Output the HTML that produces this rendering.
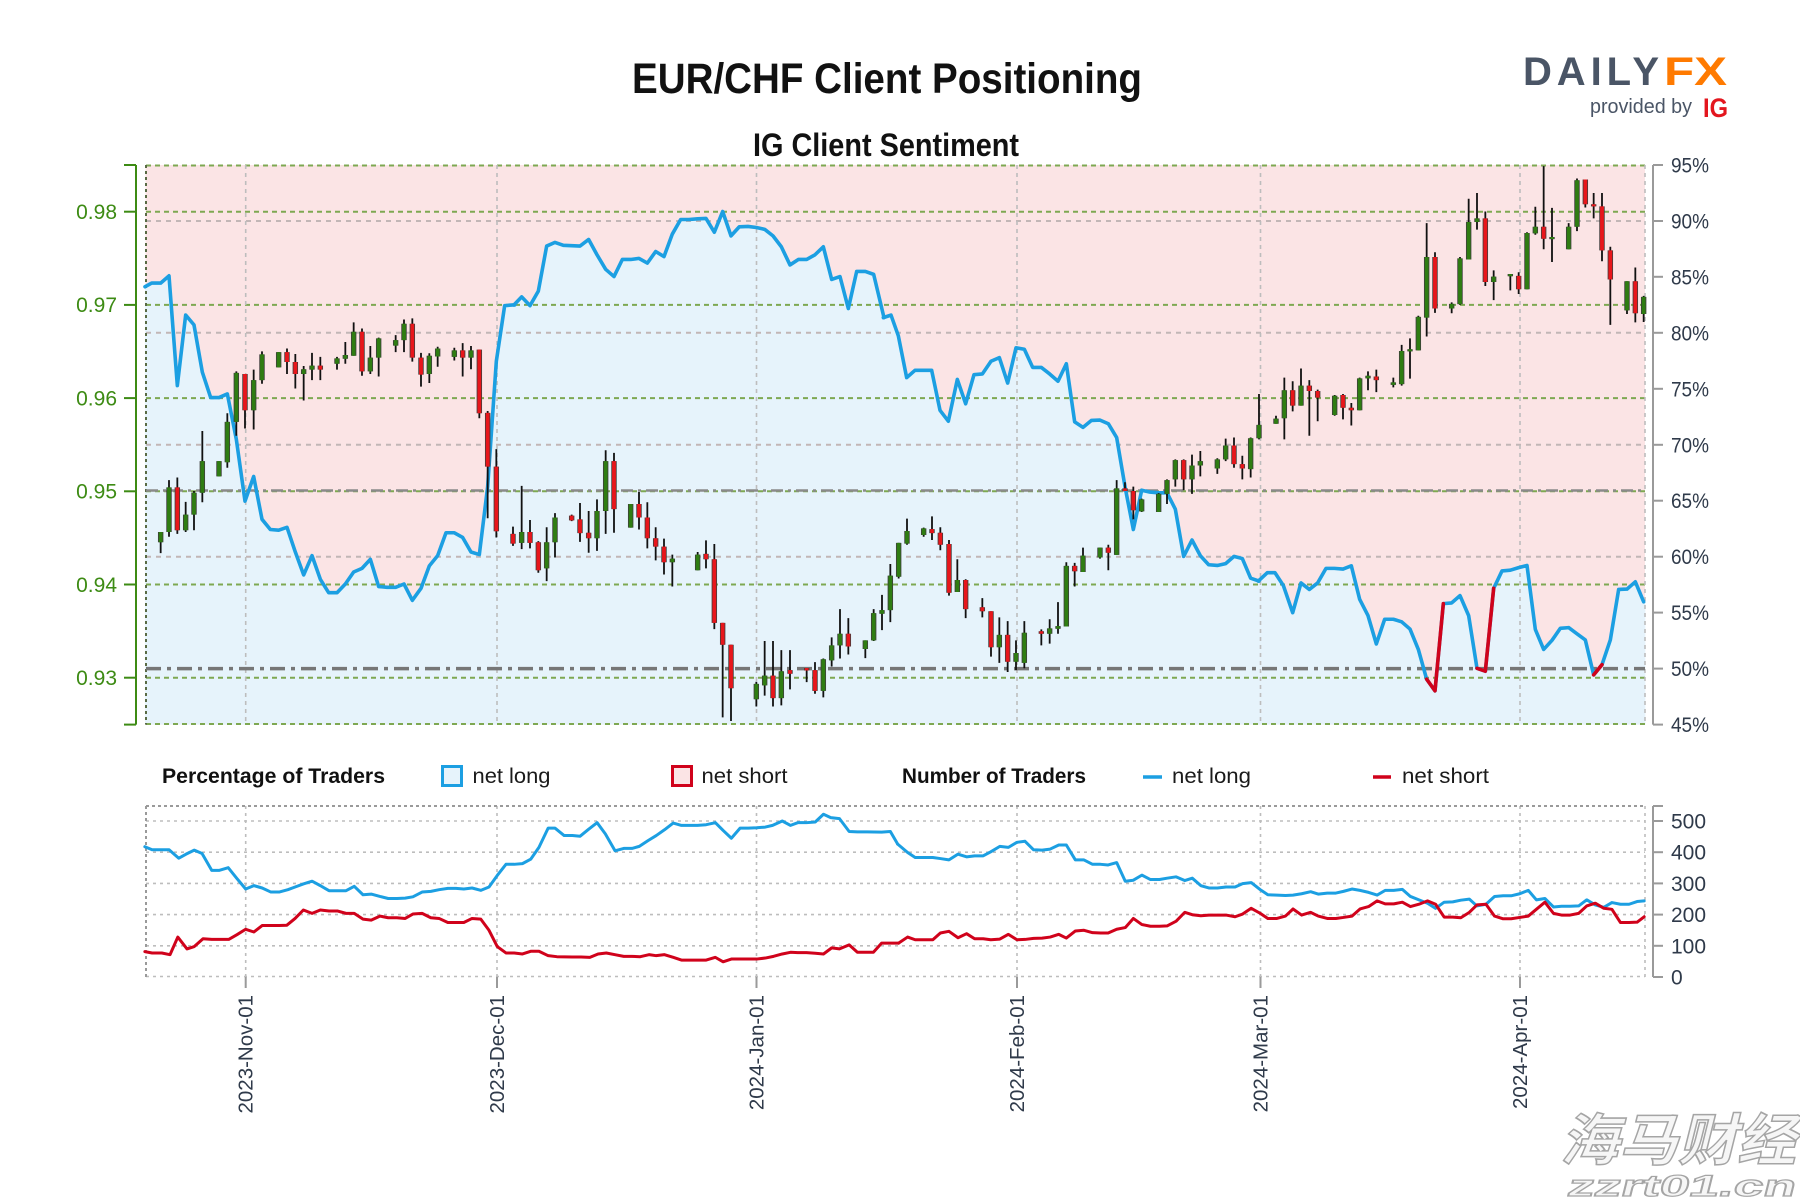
<!DOCTYPE html>
<html><head><meta charset="utf-8"><style>
html,body{margin:0;padding:0;background:#fff;}
svg{display:block;}
.ns{vector-effect:non-scaling-stroke;fill:none;}
</style></head><body>
<svg width="1800" height="1200" viewBox="0 0 1800 1200" xmlns="http://www.w3.org/2000/svg">
<rect width="1800" height="1200" fill="#fff"/>
<text x="632" y="93" font-family="Liberation Sans, sans-serif" font-weight="bold" font-size="43" fill="#111" textLength="510" lengthAdjust="spacingAndGlyphs">EUR/CHF Client Positioning</text>
<text x="753" y="156" font-family="Liberation Sans, sans-serif" font-weight="bold" font-size="32" fill="#111" textLength="266" lengthAdjust="spacingAndGlyphs">IG Client Sentiment</text>
<text x="1523" y="85" font-family="Liberation Sans, sans-serif" font-weight="bold" font-size="40" fill="#4a5566" textLength="136" lengthAdjust="spacing">DAILY</text>
<text x="1664" y="85" font-family="Liberation Sans, sans-serif" font-weight="bold" font-size="40" fill="#ff7a00" textLength="63" lengthAdjust="spacingAndGlyphs">FX</text>
<text x="1590" y="113" font-family="Liberation Sans, sans-serif" font-size="20" fill="#4a5566" textLength="102" lengthAdjust="spacingAndGlyphs">provided by</text>
<text x="1703" y="117" font-family="Liberation Sans, sans-serif" font-weight="bold" font-size="27" fill="#e3161e" textLength="25" lengthAdjust="spacingAndGlyphs">IG</text>
<rect x="145.5" y="165" width="1499.5" height="559.6" fill="#fbe4e5"/>
<g fill="#e6f3fb" stroke="none">
<g transform="translate(140,159.55) scale(0.33333,0.3634)"><polygon points="15,350 35,340 62,340 87,320 112,622 137,428 162,455 187,585 212,655 237,655 262,645 289,770 315,940 341,872 366,990 391,1018 416,1020 441,1012 466,1080 491,1143 516,1090 541,1155 566,1192 591,1192 616,1168 641,1135 666,1125 691,1100 716,1175 741,1177 767,1177 792,1168 817,1213 843,1180 868,1118 893,1090 918,1027 943,1027 968,1040 993,1080 1018,1087 1043,900 1069,555 1094,402 1119,400 1124,400 1124,1555 15,1555"/></g>
<g transform="translate(510,159.55) scale(0.33333,0.3634)"><polygon points="12,400 35,378 60,402 85,362 110,238 135,228 160,236 185,237 210,238 236,220 261,262 287,302 312,322 337,275 362,275 387,272 412,285 437,253 462,267 487,205 512,165 537,165 563,163 588,162 613,200 638,143 663,210 688,185 714,184 739,187 764,192 789,210 814,240 840,290 865,275 890,275 915,262 940,240 965,330 990,322 1015,410 1040,308 1066,308 1091,316 1122,435 1122,1555 12,1555"/></g>
<g transform="translate(880,159.55) scale(0.33333,0.3634)"><polygon points="10,435 33,428 55,485 80,600 105,580 155,580 180,690 205,720 232,605 257,672 282,592 307,590 333,555 358,545 383,615 408,518 433,522 458,572 484,572 509,590 534,610 559,562 584,722 609,737 634,718 660,717 685,727 710,765 735,900 760,1018 785,910 810,915 836,917 861,917 886,962 911,1092 936,1047 961,1090 986,1115 1012,1117 1037,1112 1062,1092 1087,1098 1112,1152 1137,1160 1137,1555 10,1555"/></g>
<g transform="translate(1250,159.55) scale(0.33333,0.3634)"><polygon points="25,1160 52,1137 75,1137 100,1172 128,1247 153,1165 178,1183 203,1165 228,1125 253,1125 279,1127 304,1118 329,1210 354,1255 379,1333 404,1265 430,1265 455,1272 480,1292 505,1348 530,1430 555,1462 580,1222 605,1220 630,1200 656,1255 681,1400 706,1408 731,1180 756,1132 781,1130 806,1123 831,1117 856,1293 881,1348 906,1323 931,1290 956,1288 981,1305 1006,1322 1031,1418 1056,1390 1081,1322 1106,1183 1131,1182 1156,1162 1181,1217 1186,1217 1186,1555 25,1555"/></g>
</g>
<g stroke="#c2b6b6" stroke-width="2" stroke-dasharray="5 5" fill="none">
<line x1="146" y1="221" x2="1645" y2="221"/><line x1="146" y1="332.8" x2="1645" y2="332.8"/><line x1="146" y1="444.8" x2="1645" y2="444.8"/><line x1="146" y1="556.7" x2="1645" y2="556.7"/>
</g>
<g stroke="#7ea852" stroke-width="2" stroke-dasharray="5 4" fill="none">
<line x1="146" y1="211.7" x2="1645" y2="211.7"/><line x1="146" y1="304.9" x2="1645" y2="304.9"/><line x1="146" y1="398.1" x2="1645" y2="398.1"/><line x1="146" y1="491.3" x2="1645" y2="491.3"/><line x1="146" y1="584.5" x2="1645" y2="584.5"/><line x1="146" y1="677.7" x2="1645" y2="677.7"/>
<line x1="146" y1="165.5" x2="1645" y2="165.5"/><line x1="146" y1="724" x2="1645" y2="724"/>
</g>
<g stroke="#bdbdbd" stroke-width="1.6" stroke-dasharray="4 4" fill="none">
<line x1="245.7" y1="165" x2="245.7" y2="724.6"/><line x1="497" y1="165" x2="497" y2="724.6"/><line x1="756.5" y1="165" x2="756.5" y2="724.6"/><line x1="1017" y1="165" x2="1017" y2="724.6"/><line x1="1260.5" y1="165" x2="1260.5" y2="724.6"/><line x1="1520" y1="165" x2="1520" y2="724.6"/>
<line x1="1645" y1="165" x2="1645" y2="724.6"/>
</g>
<line x1="146" y1="165" x2="146" y2="724.6" stroke="#5a6b45" stroke-width="2" stroke-dasharray="3 3"/>
<line x1="146" y1="490.5" x2="1645" y2="490.5" stroke="#8a8a8a" stroke-width="2.5" stroke-dasharray="12 5 3 5"/>
<line x1="146" y1="668.6" x2="1645" y2="668.6" stroke="#767676" stroke-width="3.5" stroke-dasharray="15 6 4 6"/>
<g stroke="#1c9fe2" stroke-width="3.6" fill="none" stroke-linejoin="round" stroke-linecap="round">
<g transform="translate(140,159.55) scale(0.33333,0.3634)"><polyline class="ns" points="15,350 35,340 62,340 87,320 112,622 137,428 162,455 187,585 212,655 237,655 262,645 289,770 315,940 341,872 366,990 391,1018 416,1020 441,1012 466,1080 491,1143 516,1090 541,1155 566,1192 591,1192 616,1168 641,1135 666,1125 691,1100 716,1175 741,1177 767,1177 792,1168 817,1213 843,1180 868,1118 893,1090 918,1027 943,1027 968,1040 993,1080 1018,1087 1043,900 1069,555 1094,402 1119,400 1124,400"/></g>
<g transform="translate(510,159.55) scale(0.33333,0.3634)"><polyline class="ns" points="12,400 35,378 60,402 85,362 110,238 135,228 160,236 185,237 210,238 236,220 261,262 287,302 312,322 337,275 362,275 387,272 412,285 437,253 462,267 487,205 512,165 537,165 563,163 588,162 613,200 638,143 663,210 688,185 714,184 739,187 764,192 789,210 814,240 840,290 865,275 890,275 915,262 940,240 965,330 990,322 1015,410 1040,308 1066,308 1091,316 1122,435"/></g>
<g transform="translate(880,159.55) scale(0.33333,0.3634)"><polyline class="ns" points="10,435 33,428 55,485 80,600 105,580 155,580 180,690 205,720 232,605 257,672 282,592 307,590 333,555 358,545 383,615 408,518 433,522 458,572 484,572 509,590 534,610 559,562 584,722 609,737 634,718 660,717 685,727 710,765 735,900 760,1018 785,910 810,915 836,917 861,917 886,962 911,1092 936,1047 961,1090 986,1115 1012,1117 1037,1112 1062,1092 1087,1098 1112,1152 1137,1160"/></g>
<g transform="translate(1250,159.55) scale(0.33333,0.3634)"><polyline class="ns" points="25,1160 52,1137 75,1137 100,1172 128,1247 153,1165 178,1183 203,1165 228,1125 253,1125 279,1127 304,1118 329,1210 354,1255 379,1333 404,1265 430,1265 455,1272 480,1292 505,1348 530,1430 555,1462 580,1222 605,1220 630,1200 656,1255 681,1400 706,1408 731,1180 756,1132 781,1130 806,1123 831,1117 856,1293 881,1348 906,1323 931,1290 956,1288 981,1305 1006,1322 1031,1418 1056,1390 1081,1322 1106,1183 1131,1182 1156,1162 1181,1217"/>
<polyline class="ns" stroke="#d0021b" points="530,1430 555,1462 580,1222"/><polyline class="ns" stroke="#d0021b" points="681,1400 706,1408 731,1180"/><polyline class="ns" stroke="#d0021b" points="1031,1418 1056,1390"/></g>
</g>
<g fill="none">
<g transform="translate(140,159.55) scale(0.33333,0.3634)">
<path class="ns" stroke="#111" stroke-width="1.8" d="M62 1025V1083M87 882V1038M112 875V1030M137 942V1025M162 912V1020M187 747V943M237 830V872M262 698V848M289 583V760M315 590V740M341 578V743M366 528V617M416 530V572M441 520V590M466 535V630M491 568V663M516 532V607M541 543V607M591 543V578M616 502V562M641 448V540M666 465V595M691 513V590M716 490V597M767 483V530M792 440V530M817 437V556M843 532V625M868 533V615M893 515V570M943 518V553M968 505V597M993 513V577M1018 523V712M1043 692V987M1069 797V1040M1119 1010V1063"/>
<path class="ns" stroke="#3d3d3d" stroke-width="5.4" d="M62 1025V1053M87 902V1025M137 977V1020M162 917V977M187 830V917M237 830V872M262 722V833M289 587V722M341 607V690M366 536V607M416 530V572M491 577V590M516 567V578M591 547V562M616 538V548M641 474V540M691 545V583M716 492V545M767 497V512M792 452V497M868 540V590M893 520V542M943 525V543M993 525V545M112 902V1020M315 590V690M441 530V557M466 557V590M541 567V578M666 474V583M817 452V545M843 545V592M968 525V545M1018 523V698M1043 697V845M1069 845V1023M1119 1030V1057"/>
<path class="ns" stroke="#2f7d12" stroke-width="3.8" d="M62 1025V1053M87 902V1025M137 977V1020M162 917V977M187 830V917M237 830V872M262 722V833M289 587V722M341 607V690M366 536V607M416 530V572M491 577V590M516 567V578M591 547V562M616 538V548M641 474V540M691 545V583M716 492V545M767 497V512M792 452V497M868 540V590M893 520V542M943 525V543M993 525V545"/>
<path class="ns" stroke="#e8161b" stroke-width="3.8" d="M112 902V1020M315 590V690M441 530V557M466 557V590M541 567V578M666 474V583M817 452V545M843 545V592M968 525V545M1018 523V698M1043 697V845M1069 845V1023M1119 1030V1057"/>
</g>
<g transform="translate(510,159.55) scale(0.33333,0.3634)">
<path class="ns" stroke="#111" stroke-width="1.8" d="M35 898V1072M60 992V1070M85 1050V1137M110 1012V1160M135 973V1095M185 977V995M210 945V1052M236 967V1082M261 935V1077M287 800V1030M312 807V1027M362 948V1013M387 915V1018M412 943V1070M437 1012V1103M462 1043V1142M487 1087V1175M563 1080V1130M588 1048V1125M613 1058V1292M638 1275V1535M663 1335V1545M739 1437V1505M764 1325V1475M789 1325V1505M814 1350V1502M840 1350V1458M890 1400V1438M915 1383V1470M940 1373V1480M965 1315V1395M990 1237V1373M1015 1262V1362M1066 1323V1372M1091 1237V1325M1116 1198V1295"/>
<path class="ns" stroke="#3d3d3d" stroke-width="5.4" d="M35 1025V1055M110 1053V1125M135 985V1053M261 967V1042M287 830V967M362 948V1013M487 1098V1108M563 1087V1130M739 1443V1485M764 1420V1447M814 1408V1482M940 1375V1462M965 1337V1378M990 1305V1337M1066 1323V1347M1091 1248V1323M1116 1240V1250M60 1025V1055M85 1053V1130M185 980V993M210 990V1028M236 1027V1042M312 830V962M387 948V985M412 985V1042M437 1042V1065M462 1065V1108M588 1085V1100M613 1100V1275M638 1275V1335M663 1335V1455M789 1420V1482M840 1405V1415M890 1399V1406M915 1405V1462M1015 1305V1340"/>
<path class="ns" stroke="#2f7d12" stroke-width="3.8" d="M35 1025V1055M110 1053V1125M135 985V1053M261 967V1042M287 830V967M362 948V1013M487 1098V1108M563 1087V1130M739 1443V1485M764 1420V1447M814 1408V1482M940 1375V1462M965 1337V1378M990 1305V1337M1066 1323V1347M1091 1248V1323M1116 1240V1250"/>
<path class="ns" stroke="#e8161b" stroke-width="3.8" d="M60 1025V1055M85 1053V1130M185 980V993M210 990V1028M236 1027V1042M312 830V962M387 948V985M412 985V1042M437 1042V1065M462 1065V1108M588 1085V1100M613 1100V1275M638 1275V1335M663 1335V1455M789 1420V1482M840 1405V1415M890 1399V1406M915 1405V1462M1015 1305V1340"/>
</g>
<g transform="translate(880,159.55) scale(0.33333,0.3634)">
<path class="ns" stroke="#111" stroke-width="1.8" d="M31 1113V1273M56 1055V1153M81 988V1060M131 1013V1038M156 982V1047M181 1012V1075M207 1047V1200M232 1100V1190M257 1155V1262M307 1207V1260M333 1243V1368M358 1260V1385M383 1270V1410M408 1323V1405M433 1270V1400M484 1293V1337M509 1265V1332M534 1218V1305M559 1108V1285M584 1110V1175M609 1068V1135M660 1068V1098M685 1060V1130M710 882V1088M735 888V912M760 900V990M785 933V970M836 918V970M861 880V948M886 825V900M911 825V910M936 812V920M961 802V872M1012 822V865M1037 768V830M1062 765V848M1087 815V880M1112 765V875M1137 645V770"/>
<path class="ns" stroke="#3d3d3d" stroke-width="5.4" d="M31 1145V1240M56 1055V1148M81 1022V1057M131 1015V1033M232 1157V1190M358 1308V1342M408 1358V1382M433 1302V1385M509 1290V1305M534 1284V1291M559 1118V1285M609 1090V1135M660 1068V1095M710 905V1088M785 935V968M836 920V970M861 882V920M886 827V880M936 842V880M961 830V842M1012 825V850M1037 787V825M1112 767V852M1137 730V767M156 1017V1028M181 1027V1060M207 1058V1192M257 1157V1237M307 1232V1243M333 1243V1342M383 1308V1382M484 1298V1305M584 1118V1133M685 1068V1082M735 905V912M760 912V965M911 827V880M1062 787V838M1087 838V850"/>
<path class="ns" stroke="#2f7d12" stroke-width="3.8" d="M31 1145V1240M56 1055V1148M81 1022V1057M131 1015V1033M232 1157V1190M358 1308V1342M408 1358V1382M433 1302V1385M509 1290V1305M534 1284V1291M559 1118V1285M609 1090V1135M660 1068V1095M710 905V1088M785 935V968M836 920V970M861 882V920M886 827V880M936 842V880M961 830V842M1012 825V850M1037 787V825M1112 767V852M1137 730V767"/>
<path class="ns" stroke="#e8161b" stroke-width="3.8" d="M156 1017V1028M181 1027V1060M207 1058V1192M257 1157V1237M307 1232V1243M333 1243V1342M383 1308V1382M484 1298V1305M584 1118V1133M685 1068V1082M735 905V912M760 912V965M911 827V880M1062 787V838M1087 838V850"/>
</g>
<g transform="translate(1250,159.55) scale(0.33333,0.3634)">
<path class="ns" stroke="#111" stroke-width="1.8" d="M78 705V727M103 600V770M128 610V693M153 575V677M178 607V760M203 633V720M254 648V705M279 645V715M304 670V732M329 600V690M354 583V635M379 578V640M430 600V627M455 510V622M480 492V603M505 430V525M530 175V487M555 255V422M605 393V423M630 268V400M656 108V275M681 92V193M706 143V348M731 305V387M781 315V360M806 310V370M831 200V357M856 130V207M881 18V247M906 133V282M956 175V247M981 52V197M1006 55V132M1031 92V162M1056 92V280M1081 240V455M1131 335V425M1156 297V448M1181 375V447"/>
<path class="ns" stroke="#3d3d3d" stroke-width="5.4" d="M78 713V727M103 635V712M153 622V677M254 650V703M329 602V690M354 595V602M430 613V620M455 527V618M480 522V528M505 433V525M530 268V435M605 397V410M630 272V398M656 172V275M681 162V172M731 322V337M781 315V321M831 202V357M856 185V203M906 213V219M956 185V247M981 57V185M1131 335V415M1181 378V425M128 635V677M178 622V637M203 637V655M279 648V683M304 683V690M379 597V607M555 268V410M706 162V337M806 320V357M881 185V218M1006 55V123M1031 123V129M1056 129V250M1081 250V330M1156 335V423"/>
<path class="ns" stroke="#2f7d12" stroke-width="3.8" d="M78 713V727M103 635V712M153 622V677M254 650V703M329 602V690M354 595V602M430 613V620M455 527V618M480 522V528M505 433V525M530 268V435M605 397V410M630 272V398M656 172V275M681 162V172M731 322V337M781 315V321M831 202V357M856 185V203M906 213V219M956 185V247M981 57V185M1131 335V415M1181 378V425"/>
<path class="ns" stroke="#e8161b" stroke-width="3.8" d="M128 635V677M178 622V637M203 637V655M279 648V683M304 683V690M379 597V607M555 268V410M706 162V337M806 320V357M881 185V218M1006 55V123M1031 123V129M1056 129V250M1081 250V330M1156 335V423"/>
</g>
</g>
<g stroke="#3d8b14" stroke-width="2" fill="none">
<line x1="136" y1="165" x2="136" y2="724.6"/>
<line x1="124" y1="165" x2="136" y2="165"/><line x1="124" y1="724.6" x2="136" y2="724.6"/>
<line x1="124" y1="211.7" x2="136" y2="211.7"/><line x1="124" y1="304.9" x2="136" y2="304.9"/><line x1="124" y1="398.1" x2="136" y2="398.1"/><line x1="124" y1="491.3" x2="136" y2="491.3"/><line x1="124" y1="584.5" x2="136" y2="584.5"/><line x1="124" y1="677.7" x2="136" y2="677.7"/>
</g>
<g font-family="Liberation Sans, sans-serif" font-size="21" fill="#3d8b14" text-anchor="end">
<text x="117" y="219">0.98</text><text x="117" y="312">0.97</text><text x="117" y="405.5">0.96</text><text x="117" y="498.5">0.95</text><text x="117" y="592">0.94</text><text x="117" y="685">0.93</text>
</g>
<g stroke="#9a9a9a" stroke-width="2" fill="none">
<line x1="1653" y1="165" x2="1653" y2="724.6"/>
<line x1="1653" y1="165" x2="1663" y2="165"/><line x1="1653" y1="221" x2="1663" y2="221"/><line x1="1653" y1="276.8" x2="1663" y2="276.8"/><line x1="1653" y1="332.8" x2="1663" y2="332.8"/><line x1="1653" y1="388.8" x2="1663" y2="388.8"/><line x1="1653" y1="444.8" x2="1663" y2="444.8"/><line x1="1653" y1="500.7" x2="1663" y2="500.7"/><line x1="1653" y1="556.7" x2="1663" y2="556.7"/><line x1="1653" y1="612.6" x2="1663" y2="612.6"/><line x1="1653" y1="668.6" x2="1663" y2="668.6"/><line x1="1653" y1="724.6" x2="1663" y2="724.6"/>
</g>
<g font-family="Liberation Sans, sans-serif" font-size="21" fill="#2f3a4a">
<text x="1671" y="172.5" textLength="38" lengthAdjust="spacingAndGlyphs">95%</text><text x="1671" y="228.5" textLength="38" lengthAdjust="spacingAndGlyphs">90%</text><text x="1671" y="284.3" textLength="38" lengthAdjust="spacingAndGlyphs">85%</text><text x="1671" y="340.3" textLength="38" lengthAdjust="spacingAndGlyphs">80%</text><text x="1671" y="396.3" textLength="38" lengthAdjust="spacingAndGlyphs">75%</text><text x="1671" y="452.3" textLength="38" lengthAdjust="spacingAndGlyphs">70%</text><text x="1671" y="508.2" textLength="38" lengthAdjust="spacingAndGlyphs">65%</text><text x="1671" y="564.2" textLength="38" lengthAdjust="spacingAndGlyphs">60%</text><text x="1671" y="620.1" textLength="38" lengthAdjust="spacingAndGlyphs">55%</text><text x="1671" y="676.1" textLength="38" lengthAdjust="spacingAndGlyphs">50%</text><text x="1671" y="732.1" textLength="38" lengthAdjust="spacingAndGlyphs">45%</text>
</g>
<g font-family="Liberation Sans, sans-serif" font-size="21">
<text x="162" y="783" font-weight="bold" fill="#111" textLength="223" lengthAdjust="spacingAndGlyphs">Percentage of Traders</text>
<rect x="442.5" y="766.5" width="19" height="19" fill="#e6f3fb" stroke="#1c9fe2" stroke-width="3"/>
<text x="472.5" y="783" fill="#1a1a1a" textLength="78" lengthAdjust="spacingAndGlyphs">net long</text>
<rect x="672.5" y="766.5" width="19" height="19" fill="#fbe4e5" stroke="#d0021b" stroke-width="3"/>
<text x="701.5" y="783" fill="#1a1a1a" textLength="86" lengthAdjust="spacingAndGlyphs">net short</text>
<text x="902" y="783" font-weight="bold" fill="#111" textLength="184" lengthAdjust="spacingAndGlyphs">Number of Traders</text>
<line x1="1143" y1="777" x2="1162" y2="777" stroke="#1c9fe2" stroke-width="3.5"/>
<text x="1172" y="783" fill="#1a1a1a" textLength="79" lengthAdjust="spacingAndGlyphs">net long</text>
<line x1="1373" y1="777" x2="1391" y2="777" stroke="#d0021b" stroke-width="3.5"/>
<text x="1402" y="783" fill="#1a1a1a" textLength="87" lengthAdjust="spacingAndGlyphs">net short</text>
</g>
<g stroke="#bdbdbd" stroke-width="1.6" stroke-dasharray="3 4" fill="none">
<line x1="146" y1="821" x2="1645" y2="821"/><line x1="146" y1="852.2" x2="1645" y2="852.2"/><line x1="146" y1="883.4" x2="1645" y2="883.4"/><line x1="146" y1="914.6" x2="1645" y2="914.6"/><line x1="146" y1="945.8" x2="1645" y2="945.8"/>
<line x1="146" y1="976.5" x2="1645" y2="976.5"/>
<line x1="245.7" y1="806" x2="245.7" y2="977"/><line x1="497" y1="806" x2="497" y2="977"/><line x1="756.5" y1="806" x2="756.5" y2="977"/><line x1="1017" y1="806" x2="1017" y2="977"/><line x1="1260.5" y1="806" x2="1260.5" y2="977"/><line x1="1520" y1="806" x2="1520" y2="977"/>
<line x1="1645" y1="806" x2="1645" y2="977"/>
</g>
<line x1="146" y1="806" x2="1645" y2="806" stroke="#9a9a9a" stroke-width="2" stroke-dasharray="3 3"/>
<line x1="146" y1="806" x2="146" y2="977" stroke="#9a9a9a" stroke-width="2" stroke-dasharray="3 3"/>
<g stroke-width="3" fill="none" stroke-linejoin="round" stroke-linecap="round">
<g transform="translate(140,798.32) scale(0.48473,0.3384)">
<polyline class="ns" stroke="#1c9fe2" points="10,143 25,152 60,152 80,177 95,165 112,153 128,163 148,213 163,213 182,205 200,237 218,268 235,258 252,265 270,277 287,277 305,270 320,262 337,253 355,245 372,258 390,273 408,273 425,273 442,260 460,285 477,283 495,290 512,296 530,296 547,295 563,291 582,277 600,275 617,270 635,266 652,266 668,268 685,265 703,272 720,262 737,228 755,195 772,195 789,193 806,180 823,145 842,88 856,88 875,110 892,110 908,112 925,92 943,72 960,105 980,155 998,148 1015,148 1030,142 1048,125 1065,110 1082,93 1100,73 1117,80 1135,80 1150,80 1168,78 1187,72 1203,95 1220,118 1238,88 1255,88 1272,87 1290,85 1305,80 1325,67 1342,80 1357,72 1375,72 1393,70 1410,47 1425,57 1443,60 1463,98 1480,99 1500,99 1530,100 1548,98 1563,135"/>
</g>
<g transform="translate(890,798.32) scale(0.50378,0.3384)">
<polyline class="ns" stroke="#1c9fe2" points="15,135 35,160 50,175 67,175 85,175 100,178 117,182 135,165 152,173 168,170 185,170 200,158 218,142 235,145 252,130 268,127 285,152 302,153 318,150 335,138 350,138 368,182 385,182 402,195 418,195 433,197 450,190 467,245 483,242 500,227 517,240 535,240 550,236 568,232 585,243 600,236 617,258 633,265 650,265 667,262 685,262 700,252 717,249 735,270 750,285 768,286 785,287 800,286 817,282 835,276 850,283 868,280 885,280 900,275 917,268 933,272 950,278 967,286 983,272 1000,272 1017,269 1033,290 1050,300 1067,310 1083,325 1100,307 1117,306 1133,301 1150,298 1165,318 1183,313 1200,290 1217,288 1233,288 1250,282 1267,272 1283,300 1300,296 1317,321 1333,319 1350,319 1367,318 1383,300 1400,315 1417,322 1433,308 1450,313 1467,313 1483,305 1497,303"/>
</g>
<g transform="translate(140,798.32) scale(0.48473,0.3384)">
<polyline class="ns" stroke="#d0021b" points="10,453 25,457 45,457 62,462 78,410 97,445 112,438 130,415 148,417 165,417 183,417 200,403 218,387 235,395 252,376 270,376 287,376 303,375 320,355 337,330 355,340 372,330 390,333 408,333 425,340 442,340 460,357 477,360 495,348 512,353 530,353 547,355 563,342 582,340 600,353 617,355 635,367 652,367 668,367 685,355 703,357 720,390 737,438 755,457 772,457 789,460 806,452 823,452 842,465 860,468 892,469 910,469 928,470 945,460 962,457 980,462 998,467 1015,467 1032,468 1050,462 1065,465 1082,462 1100,470 1117,478 1135,478 1150,478 1168,478 1187,470 1203,483 1220,475 1238,475 1255,475 1272,475 1290,472 1307,467 1325,460 1342,455 1357,456 1375,456 1393,458 1410,460 1427,442 1443,445 1463,433 1480,455 1500,455 1513,455 1530,428 1548,428 1565,428"/>
</g>
<g transform="translate(890,798.32) scale(0.50378,0.3384)">
<polyline class="ns" stroke="#d0021b" points="17,428 35,410 50,418 67,418 85,418 100,398 117,393 135,412 152,400 168,415 185,415 200,418 218,416 235,402 252,418 268,417 285,414 302,413 318,410 335,402 350,413 368,392 385,390 402,397 418,398 433,398 450,387 467,382 483,355 500,373 517,378 535,378 550,377 568,363 585,337 600,344 617,347 633,345 650,345 667,345 685,350 700,342 717,325 735,340 750,355 768,355 785,348 800,327 817,345 835,337 850,348 868,355 885,355 900,352 917,348 933,327 950,320 967,303 983,312 1000,312 1017,307 1033,320 1050,313 1067,303 1083,313 1100,351 1117,351 1133,353 1150,337 1165,315 1183,313 1200,348 1217,356 1233,356 1250,352 1267,348 1283,328 1300,307 1317,340 1333,345 1350,345 1367,340 1383,318 1400,310 1417,325 1433,328 1450,367 1467,367 1483,366 1497,350"/>
</g>
</g>
<g stroke="#9a9a9a" stroke-width="2" fill="none">
<line x1="1653" y1="806" x2="1653" y2="977"/>
<line x1="1653" y1="806" x2="1663" y2="806"/><line x1="1653" y1="821" x2="1663" y2="821"/><line x1="1653" y1="852.2" x2="1663" y2="852.2"/><line x1="1653" y1="883.4" x2="1663" y2="883.4"/><line x1="1653" y1="914.6" x2="1663" y2="914.6"/><line x1="1653" y1="945.8" x2="1663" y2="945.8"/><line x1="1653" y1="977" x2="1663" y2="977"/>
<line x1="245.7" y1="977" x2="245.7" y2="988"/><line x1="497" y1="977" x2="497" y2="988"/><line x1="756.5" y1="977" x2="756.5" y2="988"/><line x1="1017" y1="977" x2="1017" y2="988"/><line x1="1260.5" y1="977" x2="1260.5" y2="988"/><line x1="1520" y1="977" x2="1520" y2="988"/>
</g>
<g font-family="Liberation Sans, sans-serif" font-size="21" fill="#2f3a4a">
<text x="1671" y="828.5">500</text><text x="1671" y="859.7">400</text><text x="1671" y="890.9">300</text><text x="1671" y="922.1">200</text><text x="1671" y="953.3">100</text><text x="1671" y="984.5">0</text>
</g>
<g font-family="Liberation Sans, sans-serif" font-size="20.5" fill="#2f3a4a" text-anchor="end">
<text transform="translate(252.7,995) rotate(-90)">2023-Nov-01</text>
<text transform="translate(504,995) rotate(-90)">2023-Dec-01</text>
<text transform="translate(763.5,995) rotate(-90)">2024-Jan-01</text>
<text transform="translate(1024,995) rotate(-90)">2024-Feb-01</text>
<text transform="translate(1267.5,995) rotate(-90)">2024-Mar-01</text>
<text transform="translate(1527,995) rotate(-90)">2024-Apr-01</text>
</g>
<g transform="translate(1560,1160) skewX(-14)">
<text x="0" y="0" font-family="Liberation Sans, 'Noto Sans CJK SC', sans-serif" font-weight="bold" font-size="56" fill="#f6f6f6" stroke="#a5a5a5" stroke-width="1.5" textLength="236" lengthAdjust="spacingAndGlyphs">海马财经</text>
</g>
<g transform="translate(1566,1196) skewX(-14)">
<text x="0" y="0" font-family="Liberation Sans, sans-serif" font-weight="bold" font-size="30" fill="#f6f6f6" stroke="#a5a5a5" stroke-width="1.2" textLength="228" lengthAdjust="spacingAndGlyphs">zzrt01.cn</text>
</g>
</svg>
</body></html>
